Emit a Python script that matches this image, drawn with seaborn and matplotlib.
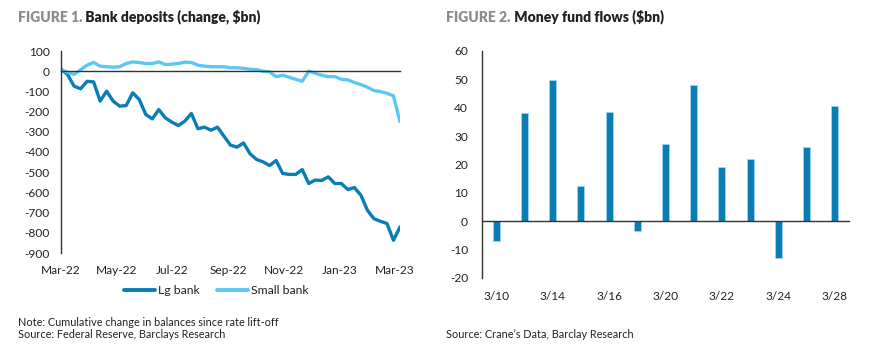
import numpy as np
import pandas as pd
import matplotlib
matplotlib.use("Agg")
import matplotlib.pyplot as plt
import seaborn as sns
from matplotlib.lines import Line2D

sns.set_theme(style="white")
plt.rcParams['font.family'] = ['Lato', 'DejaVu Sans']

# ---------------- data ----------------
lg_bank = [10, -16, -74, -87, -50, -53, -148, -99, -148, -173, -170, -107, -140,
           -214, -236, -190, -231, -252, -269, -247, -209, -285, -277, -292, -277,
           -322, -366, -376, -355, -409, -437, -449, -467, -442, -506, -511, -511,
           -487, -556, -539, -541, -523, -556, -556, -586, -576, -614, -688, -730,
           -743, -754, -837, -771]
small_bank = [8, -5, -16, 7, 30, 43, 25, 22, 20, 22, 38, 46, 43, 38, 38, 46, 33,
              35, 38, 45, 43, 30, 25, 22, 22, 22, 17, 17, 14, 10, 8, 0, -3, -27,
              -20, -30, -40, -50, 0, -10, -20, -27, -27, -40, -43, -56, -66, -79,
              -96, -101, -109, -122, -250]
month_labels = ["Mar-22", "May-22", "Jul-22", "Sep-22", "Nov-22", "Jan-23", "Mar-23"]
left_yticks = [100, 0, -100, -200, -300, -400, -500, -600, -700, -800, -900]

fund_dates = ["3/10", "3/13", "3/14", "3/15", "3/16", "3/17", "3/20", "3/21",
              "3/22", "3/23", "3/24", "3/27", "3/28"]
fund_flows = [-6.8, 38.0, 49.8, 12.5, 38.4, -3.5, 27.4, 48.0, 19.1, 21.9, -12.8, 26.3, 40.5]
right_yticks = [60, 50, 40, 30, 20, 10, 0, -10, -20]

DARK = "#0A7DB5"
LIGHT = "#5CC8F2"
TXT = "#222222"
GRAY = "#8C8C8C"

fig = plt.figure(figsize=(8.72, 3.48), dpi=100)

# ---------------- left chart ----------------
ax1 = fig.add_axes([61/872, 1-253/348, 339/872, 202/348])
n = len(lg_bank)
df = pd.DataFrame({
    "week": list(range(n)) * 2,
    "value": lg_bank + small_bank,
    "series": ["Lg bank"] * n + ["Small bank"] * n,
})
sns.lineplot(data=df, x="week", y="value", hue="series",
             palette={"Lg bank": DARK, "Small bank": LIGHT},
             linewidth=2.4, legend=False, ax=ax1)
ax1.set_xlim(0, n - 1)
ax1.set_ylim(-900, 100)
ax1.set_yticks(left_yticks)
ax1.set_yticklabels([str(v) for v in left_yticks])
ax1.set_xlabel("")
ax1.set_ylabel("")
for s in ["top", "right"]:
    ax1.spines[s].set_visible(False)
ax1.spines["left"].set_color("#333333")
ax1.spines["left"].set_linewidth(1.0)
ax1.spines["bottom"].set_position(("data", 0))
ax1.spines["bottom"].set_color("#333333")
ax1.spines["bottom"].set_linewidth(1.0)
xt = np.linspace(0, (n - 1) * 334 / 339, 7)
ax1.set_xticks(xt)
ax1.tick_params(axis="x", direction="out", length=4, width=1, color="#333333",
                labelbottom=False)
ax1.tick_params(axis="y", length=0, labelsize=8.6, labelcolor=TXT, pad=8)
sec1 = ax1.secondary_xaxis("bottom")
sec1.set_xticks(xt)
sec1.set_xticklabels(month_labels)
sec1.spines["bottom"].set_visible(False)
sec1.tick_params(length=0, labelsize=8.6, labelcolor=TXT, pad=9)

handles = [Line2D([], [], color=DARK, lw=2.8), Line2D([], [], color=LIGHT, lw=2.8)]
fig.legend(handles, ["Lg bank", "Small bank"], loc="center",
           bbox_to_anchor=(216/872, 1-291/348), ncol=2, frameon=False,
           fontsize=8.8, handlelength=2.6, handletextpad=0.2, columnspacing=1.4,
           labelcolor=TXT)

# ---------------- right chart ----------------
ax2 = fig.add_axes([482/872, 1-278/348, 367/872, 227/348])
dfb = pd.DataFrame({"date": fund_dates, "flow": fund_flows})
sns.barplot(data=dfb, x="date", y="flow", color=DARK, width=0.25,
            edgecolor="#9FD6F0", linewidth=0.6, saturation=1, ax=ax2)
ax2.set_xlim(-0.5, len(fund_dates) - 0.5)
ax2.set_ylim(-20, 60)
ax2.set_yticks(right_yticks)
ax2.set_yticklabels([str(v) for v in right_yticks])
ax2.set_xlabel("")
ax2.set_ylabel("")
for s in ["top", "right"]:
    ax2.spines[s].set_visible(False)
ax2.spines["left"].set_color("#333333")
ax2.spines["left"].set_linewidth(1.0)
ax2.spines["bottom"].set_position(("data", 0))
ax2.spines["bottom"].set_color("#333333")
ax2.spines["bottom"].set_linewidth(1.0)
bounds = np.arange(len(fund_dates)) + 0.5
ax2.set_xticks(bounds)
ax2.tick_params(axis="x", direction="out", length=4, width=1, color="#333333",
                labelbottom=False)
ax2.tick_params(axis="y", length=0, labelsize=8.6, labelcolor=TXT, pad=10)
sec2 = ax2.secondary_xaxis("bottom")
lab_pos = list(range(0, len(fund_dates), 2))
sec2.set_xticks(lab_pos)
sec2.set_xticklabels([fund_dates[i] for i in lab_pos])
sec2.spines["bottom"].set_visible(False)
sec2.tick_params(length=0, labelsize=8.6, labelcolor=TXT, pad=9)

# ---------------- titles & notes ----------------
TFS = 10
t1 = fig.text(18/872, 1-17/348, "FIGURE 1.", fontsize=TFS, fontweight="heavy",
              color=GRAY, va="center", ha="left")
ax1.annotate(" Bank deposits (change, $bn)", xy=(1, 0), xycoords=t1,
             va="bottom", ha="left", fontsize=TFS, fontweight="heavy", color=TXT,
             annotation_clip=False)
t2 = fig.text(446/872, 1-17/348, "FIGURE 2.", fontsize=TFS, fontweight="heavy",
              color=GRAY, va="center", ha="left")
ax2.annotate(" Money fund flows ($bn)", xy=(1, 0), xycoords=t2,
             va="bottom", ha="left", fontsize=TFS, fontweight="heavy", color=TXT,
             annotation_clip=False)

NFS = 7.85
fig.text(18/872, 1-322/348, "Note: Cumulative change in balances since rate lift-off",
         fontsize=NFS, color=TXT, va="center", ha="left")
fig.text(18/872, 1-335/348, "Source: Federal Reserve, Barclays Research",
         fontsize=NFS, color=TXT, va="center", ha="left")
fig.text(446/872, 1-335/348, "Source: Crane\u2019s Data, Barclay Research",
         fontsize=NFS, color=TXT, va="center", ha="left")

fig.savefig("out.png", dpi=100)
